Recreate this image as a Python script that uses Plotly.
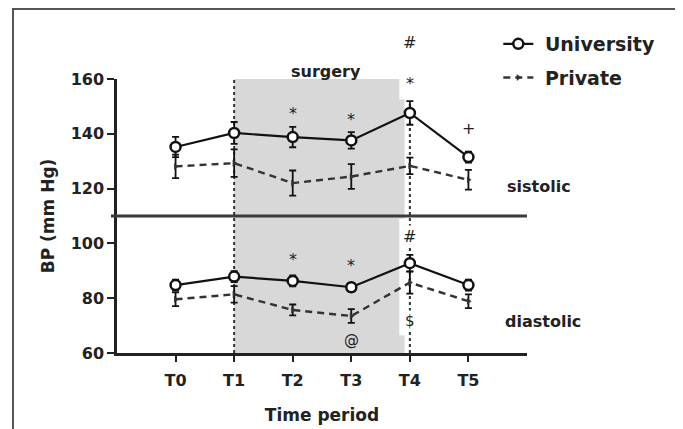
import plotly.graph_objects as go

categories = ["T0", "T1", "T2", "T3", "T4", "T5"]
x_pos = [0, 1, 2, 3, 4, 5]

uni_sys = [135.2, 140.3, 138.8, 137.6, 147.6, 131.5]
uni_sys_err = [3.7, 4.0, 3.7, 3.0, 4.3, 2.0]
pri_sys = [128.1, 129.3, 122.0, 124.4, 128.3, 123.2]
pri_sys_err = [4.3, 5.0, 4.6, 4.5, 3.0, 3.6]
uni_dia = [84.8, 87.9, 86.3, 84.0, 92.8, 84.8]
uni_dia_err = [2.0, 2.0, 2.0, 1.5, 3.0, 2.0]
pri_dia = [79.6, 81.4, 75.7, 73.5, 85.7, 78.9]
pri_dia_err = [2.5, 3.0, 2.0, 2.5, 4.0, 2.5]

y_ticks = [60, 80, 100, 120, 140, 160]

FONT = "DejaVu Sans"
TXT = "#222222"

fig = go.Figure()

def add_series(y, err, name, uni, show):
    if uni:
        line = dict(color="#111111", width=2.2)
        marker = dict(symbol="circle", size=10, color="white",
                      line=dict(color="#111111", width=2.5))
    else:
        line = dict(color="#333333", width=2.4, dash="7px,5px")
        marker = dict(symbol="triangle-right", size=6, color="#333333")
    fig.add_trace(go.Scatter(
        x=x_pos, y=y, mode="lines+markers", name=" " + name,
        legendgroup=name, showlegend=show, line=line, marker=marker,
        error_y=dict(type="data", array=err, visible=True,
                     color="#111111", thickness=1.8, width=3.5),
        cliponaxis=False,
    ))

add_series(uni_sys, uni_sys_err, "University", True, True)
add_series(pri_sys, pri_sys_err, "Private", False, True)
add_series(uni_dia, uni_dia_err, "University", True, False)
add_series(pri_dia, pri_dia_err, "Private", False, False)

shapes = [
    dict(type="rect", xref="x", yref="y", x0=1, x1=3.91, y0=60, y1=160,
         fillcolor="#d8d8d8", line=dict(width=0), layer="below"),
    dict(type="rect", xref="x", yref="y", x0=3.82, x1=4.25, y0=152.5, y1=160,
         fillcolor="white", line=dict(width=0), layer="below"),
    dict(type="rect", xref="x", yref="y", x0=3.82, x1=4.25, y0=66.5, y1=109,
         fillcolor="white", line=dict(width=0), layer="below"),
    dict(type="line", xref="x", yref="y", x0=1, x1=1, y0=60, y1=160,
         line=dict(color="#333333", width=2, dash="dot"), layer="below"),
    dict(type="line", xref="x", yref="y", x0=4, x1=4, y0=60, y1=152,
         line=dict(color="#333333", width=2, dash="dot"), layer="below"),
    dict(type="line", xref="paper", yref="paper", x0=-0.0146, x1=1.0,
         y0=0.5, y1=0.5, line=dict(color="#3a3a3a", width=3)),
    dict(type="rect", xref="paper", yref="paper", x0=-0.2537, x1=1.3659,
         y0=-0.35, y1=1.2555, line=dict(color="#555555", width=2),
         fillcolor="rgba(0,0,0,0)"),
]

ann = []
def lab(x, y, t, size=15, ref="data", bg=None):
    xr, yr = ("x", "y") if ref == "data" else ("paper", "paper")
    a = dict(x=x, y=y, xref=xr, yref=yr, text=t, showarrow=False,
             xanchor="center", yanchor="middle",
             font=dict(family=FONT, size=size, color=TXT))
    if bg:
        a["bgcolor"] = bg
    ann.append(a)

lab(0.51, 1.028, "<b>surgery</b>", 16, "paper")
lab(0.7143, 1.132, "#", 16, "paper")
lab(4, 158.5, "*", 16)
lab(2, 147.3, "*", 16)
lab(3, 145.1, "*", 16)
lab(5, 141.8, "+", 16)
lab(4, 102.5, "#", 16, bg="white")
lab(2, 94.3, "*", 16)
lab(3, 91.9, "*", 16)
lab(4, 71.8, "$", 15, bg="white")
lab(3, 64.7, "@", 15)
lab(1.029, 0.608, "<b>sistolic</b>", 16, "paper")
lab(1.039, 0.114, "<b>diastolic</b>", 16, "paper")

fig.update_layout(
    width=675, height=421,
    margin=dict(l=109, r=156, t=71, b=76, autoexpand=False),
    paper_bgcolor="white", plot_bgcolor="white",
    font=dict(family=FONT, color=TXT),
    shapes=shapes, annotations=ann,
    showlegend=True,
    legend=dict(x=0.93, y=1.197, xanchor="left", yanchor="top",
                font=dict(family=FONT, size=19, color=TXT, weight="bold"),
                bgcolor="rgba(0,0,0,0)", tracegroupgap=6,
                traceorder="grouped", itemwidth=30),
    xaxis=dict(range=[-1, 6], tickvals=x_pos, ticktext=categories,
               showgrid=False, zeroline=False, showline=True, automargin=False,
               linecolor="#222222", linewidth=2.5, ticks="outside",
               ticklen=6, tickwidth=2, tickcolor="#222222",
               ticklabelstandoff=5,
               tickfont=dict(family=FONT, size=16, color=TXT, weight="bold"),
               title=dict(text="<b>Time period</b>", standoff=21,
                          font=dict(family=FONT, size=17, color=TXT))),
    yaxis=dict(range=[60, 160], tickvals=y_ticks,
               showgrid=False, zeroline=False, showline=True, automargin=False,
               linecolor="#222222", linewidth=2.5, ticks="outside",
               ticklen=7, tickwidth=2, tickcolor="#222222",
               tickfont=dict(family=FONT, size=16, color=TXT, weight="bold"),
               title=dict(text="<b>BP (mm Hg)</b>", standoff=12,
                          font=dict(family=FONT, size=17, color=TXT))),
)

fig.write_html("out.html")
